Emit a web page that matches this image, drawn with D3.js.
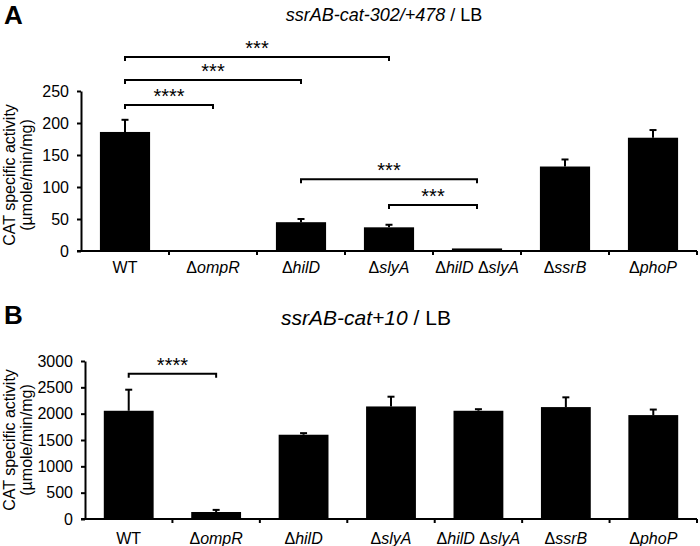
<!DOCTYPE html>
<html>
<head>
<meta charset="utf-8">
<script src="https://cdn.jsdelivr.net/npm/d3@7"></script>
<style>
  body { margin: 0; background: #fff; }
  svg { display: block; font-family: "Liberation Sans", Arial, sans-serif; }
  .axis path, .axis line { stroke: #000; stroke-width: 2; }
  .axis text { font-size: 16px; fill: #000; }
</style>
</head>
<body>
<div id="chart"></div>
<script>
// strains: gene deletions per strain (empty = wild type)
const strainGenes = [[], ["ompR"], ["hilD"], ["slyA"], ["hilD", "slyA"], ["ssrB"], ["phoP"]];

// panel A: ssrAB-cat-302/+478 in LB
const activityA = [186, 1.5, 45, 37, 4, 132, 177];
const errorA = [19, 0.5, 5, 4, 1, 11, 12];
const ticksA = [0, 50, 100, 150, 200, 250];
const bracketsA = [
    { from: 0, to: 1, level: 228, label: "****" },
    { from: 0, to: 2, level: 267, label: "***" },
    { from: 0, to: 3, level: 303, label: "***" },
    { from: 2, to: 4, level: 112, label: "***" },
    { from: 3, to: 4, level: 72, label: "***" }
];

// panel B: ssrAB-cat+10 in LB
const activityB = [2055, 133, 1600, 2137, 2055, 2125, 1973];
const errorB = [400, 40, 30, 185, 30, 185, 105];
const ticksB = [0, 500, 1000, 1500, 2000, 2500, 3000];
const bracketsB = [
    { from: 0, to: 1, level: 2757, label: "****" }
];

const svg = d3.select("#chart")
    .append("svg")
    .attr("width", 700)
    .attr("height", 546);

class BarPanel {

    constructor(opts) {
        const g = svg.append("g");
        const idx = d3.range(strainGenes.length);

        const x = d3.scaleBand()
            .domain(idx)
            .range([opts.left, 697])
            .paddingInner(0)
            .paddingOuter(0);

        const y = d3.scaleLinear()
            .domain([0, d3.max(opts.ticks)])
            .range([opts.bottom, opts.top]);

        const barW = x.bandwidth() * 0.57;
        const cx = i => x(i) + x.bandwidth() / 2;

        // panel letter + title
        g.append("text")
            .attr("x", 4).attr("y", opts.letterY)
            .attr("font-size", 26).attr("font-weight", "bold")
            .text(opts.letter);

        const title = g.append("text")
            .attr("x", opts.titleX).attr("y", opts.titleY)
            .attr("font-size", opts.titleSize).attr("text-anchor", "middle");
        title.append("tspan").attr("font-style", "italic").text(opts.construct);
        title.append("tspan").text(" / LB");

        // bars
        g.selectAll("rect.bar")
            .data(opts.values)
            .join("rect")
            .attr("class", "bar")
            .attr("x", (d, i) => cx(i) - barW / 2)
            .attr("y", d => y(d))
            .attr("width", barW)
            .attr("height", d => y(0) - y(d))
            .attr("fill", "#000");

        // upper error whiskers
        const err = g.append("g").attr("stroke", "#000").attr("stroke-width", 2);
        opts.values.forEach((v, i) => {
            if (opts.errors[i] < 2 && v < 10) return;
            err.append("line")
                .attr("x1", cx(i)).attr("x2", cx(i))
                .attr("y1", y(v)).attr("y2", y(v + opts.errors[i]));
            err.append("line")
                .attr("x1", cx(i) - 3.5).attr("x2", cx(i) + 3.5)
                .attr("y1", y(v + opts.errors[i])).attr("y2", y(v + opts.errors[i]));
        });

        // axes
        g.append("g")
            .attr("class", "axis")
            .attr("transform", `translate(${opts.left},0)`)
            .call(d3.axisLeft(y).tickValues(opts.ticks).tickFormat(d3.format("d"))
                .tickSize(4).tickSizeOuter(0).tickPadding(8));

        const xAxis = g.append("g").attr("class", "axis");
        xAxis.append("line")
            .attr("x1", opts.left - 4).attr("x2", 697)
            .attr("y1", y(0)).attr("y2", y(0));
        xAxis.selectAll("line.tick")
            .data(idx.slice(1).concat([idx.length]))
            .join("line")
            .attr("class", "tick")
            .attr("x1", i => i < idx.length ? x(i) : x.range()[1])
            .attr("x2", i => i < idx.length ? x(i) : x.range()[1])
            .attr("y1", y(0)).attr("y2", y(0) + 4);

        // category labels: Δ + italic gene names
        idx.forEach(i => {
            const t = xAxis.append("text")
                .attr("x", cx(i)).attr("y", opts.labelY)
                .attr("text-anchor", "middle");
            const genes = strainGenes[i];
            if (genes.length === 0) t.append("tspan").text("WT");
            genes.forEach((gname, k) => {
                t.append("tspan").text((k > 0 ? " " : "") + "\u0394");
                t.append("tspan").attr("font-style", "italic").text(gname);
            });
        });
        xAxis.selectAll("text").attr("font-size", 17).attr("fill", "#000");

        // y-axis title, two lines
        const yt = g.append("text")
            .attr("transform", `translate(0,${opts.yTitleY}) rotate(-90)`)
            .attr("text-anchor", "middle")
            .attr("font-size", 16);
        yt.append("tspan").attr("x", 0).attr("y", 15).text("CAT specific activity");
        yt.append("tspan").attr("x", 0).attr("y", 32).text("(\u00b5mole/min/mg)");

        // significance brackets
        const br = g.append("g");
        opts.brackets.forEach(b => {
            const yy = y(b.level);
            const x1 = cx(b.from), x2 = cx(b.to);
            br.append("path")
                .attr("d", `M${x1},${yy + 4}V${yy}H${x2}V${yy + 4}`)
                .attr("fill", "none").attr("stroke", "#000").attr("stroke-width", 2);
            br.append("text")
                .attr("x", (x1 + x2) / 2).attr("y", yy - 2)
                .attr("text-anchor", "middle")
                .attr("font-size", 20)
                .text(b.label);
        });
    }
}

new BarPanel({
    letter: "A", letterY: 24,
    construct: "ssrAB-cat-302/+478", titleX: 384, titleY: 21, titleSize: 18,
    left: 81, top: 91, bottom: 251,
    values: activityA, errors: errorA, ticks: ticksA, brackets: bracketsA,
    labelY: 273, yTitleY: 175
});

new BarPanel({
    letter: "B", letterY: 324,
    construct: "ssrAB-cat+10", titleX: 366, titleY: 325, titleSize: 21,
    left: 85, top: 361, bottom: 519,
    values: activityB, errors: errorB, ticks: ticksB, brackets: bracketsB,
    labelY: 544, yTitleY: 440
});
</script>
</body>
</html>
